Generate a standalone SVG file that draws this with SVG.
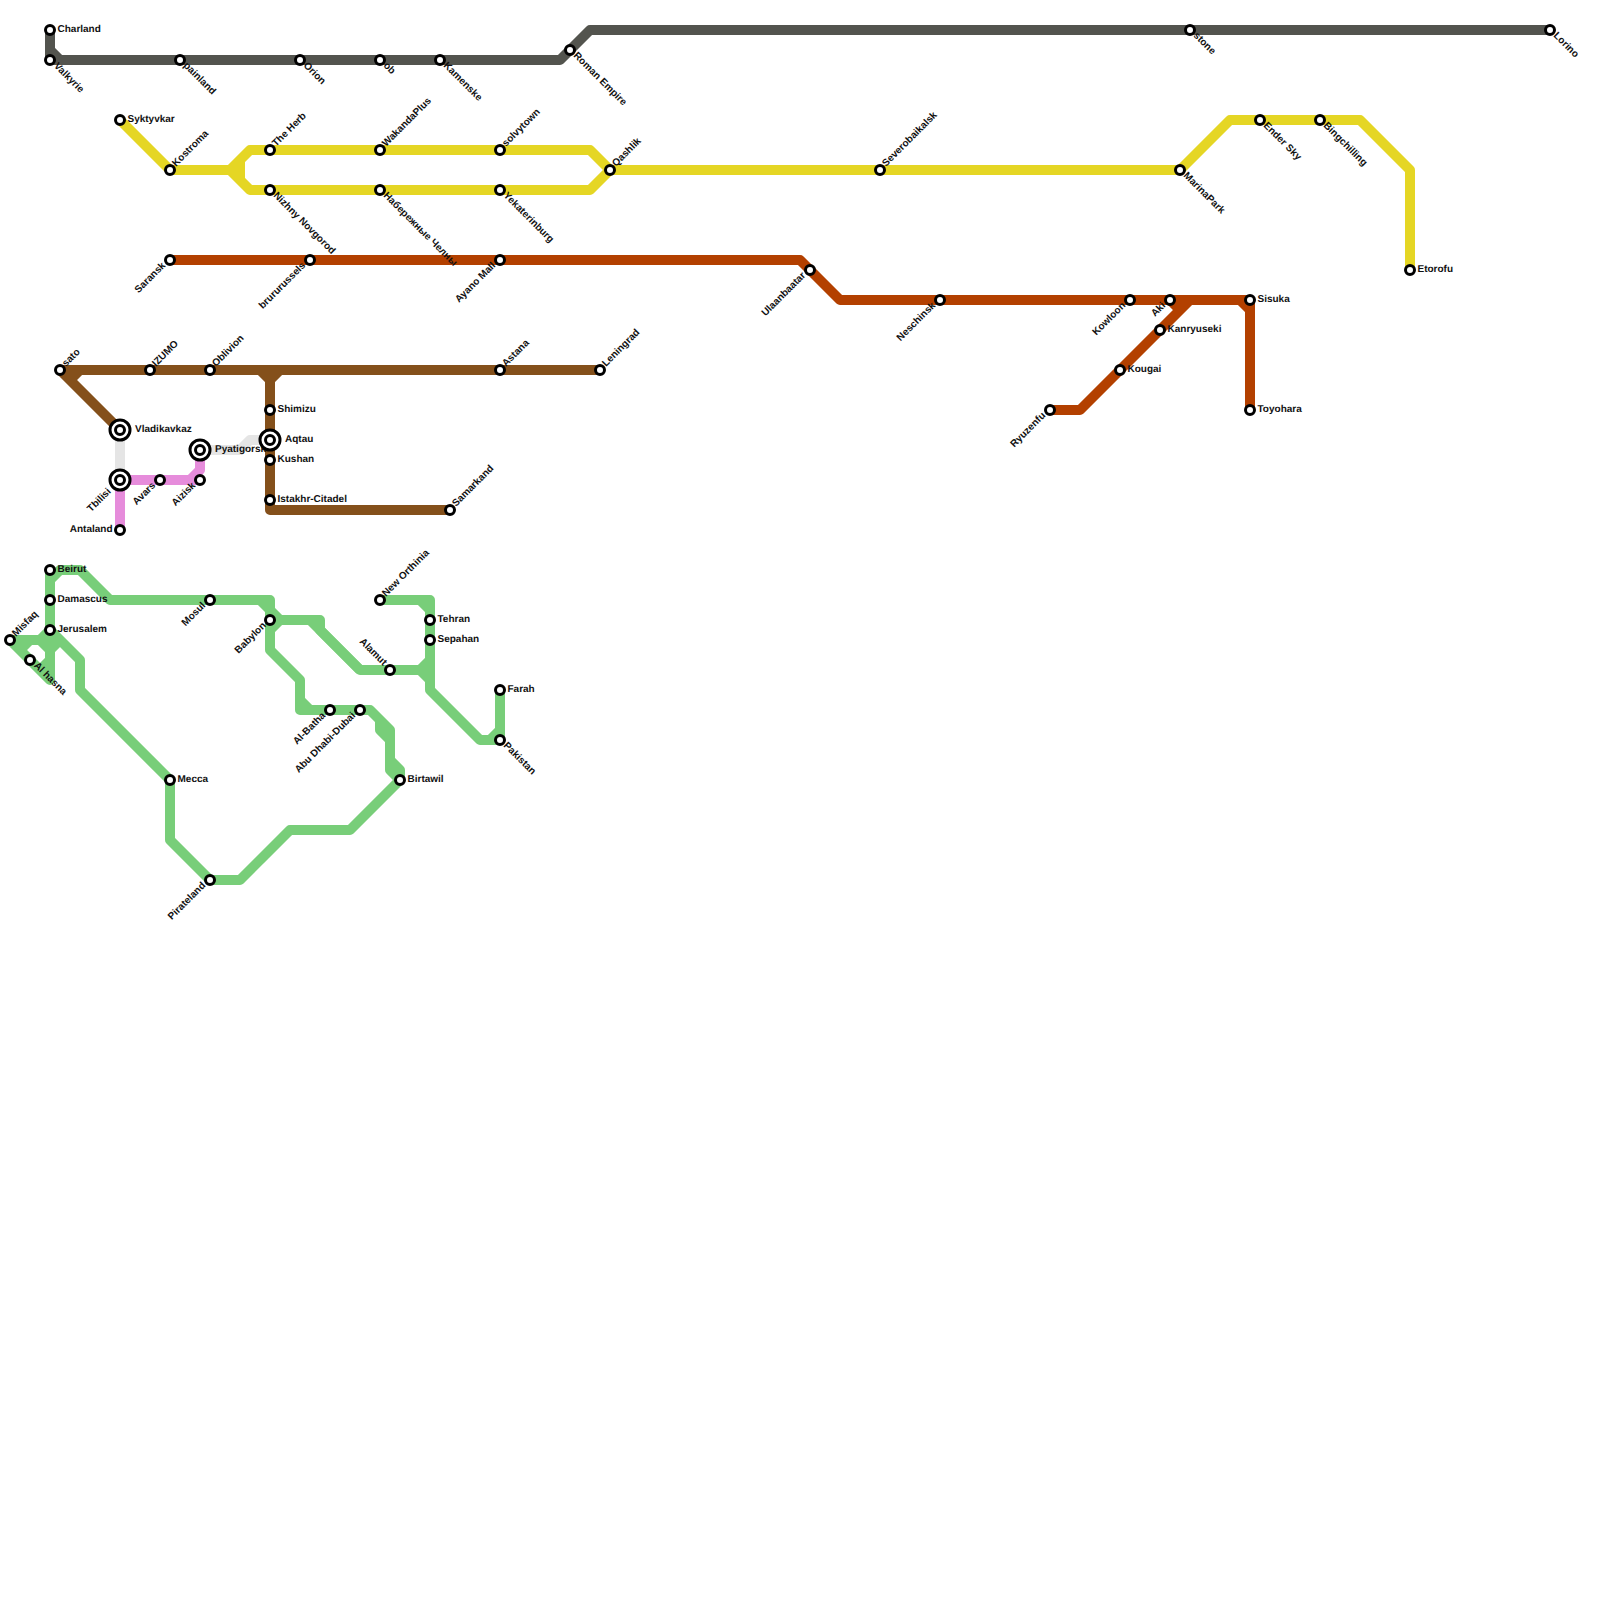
<svg xmlns="http://www.w3.org/2000/svg" width="1600" height="1600" viewBox="0 0 1600 1600">
<style>
text{font-family:"Liberation Sans",Arial,sans-serif;font-size:10px;font-weight:700;fill:#111;text-rendering:geometricPrecision}
.l{fill:none;stroke-width:10;stroke-linejoin:round}
.s{fill:#fff;stroke:#000;stroke-width:3}
.e{text-anchor:end}
</style>
<rect width="1600" height="1600" fill="#fff"/>
<g id="connectors">
<g class="l" stroke="#e5e5e5"><path d="M120 430V480"/><path d="M200 450H240L250 440H270"/></g>
<g class="l" stroke="#e68cdb"><path d="M120 530V480H200"/><path d="M190 480L200 470V450"/></g>
<g class="l" stroke="#53544e"><path d="M50 30V60H560L590 30H1550"/><path d="M50 50L60 60"/></g>
<g class="l" stroke="#e5d624"><path d="M120 120L170 170H230L250 150H590L610 170H1180L1230 120H1360L1410 170V270"/><path d="M230 170L250 190H590L610 170"/><path d="M240 160V180"/></g>
<g class="l" stroke="#b34000"><path d="M170 260H800L840 300H1250V410"/><path d="M1050 410H1080L1190 300"/><path d="M1240 300L1250 310"/><path d="M1170 300L1180 310"/></g>
<g class="l" stroke="#84501b"><path d="M120 430L60 370H600"/><path d="M70 380L80 370"/><path d="M260 370L270 380V510H450"/><path d="M280 370L270 380"/></g>
<g class="l" stroke="#78ce79">
<path d="M50 570V630L80 660V690L170 780V840L210 880H240L290 830H350L400 780V770L390 760V730L370 710H300V680L270 650V600H110L80 570H60L50 580"/>
<path d="M10 640H40L50 630"/><path d="M10 640L50 680V630"/><path d="M20 650L30 640"/><path d="M40 640L50 650"/><path d="M40 670L50 660"/><path d="M50 650L60 640"/>
<path d="M260 600L280 620H320V630L360 670H420L430 660"/><path d="M310 620L360 670"/><path d="M280 620L270 630"/><path d="M300 700L310 710"/>
<path d="M380 720V730L390 740V770L400 780"/>
<path d="M380 600H430V690L480 740H500V690"/><path d="M420 600L430 610"/><path d="M420 670L430 680"/><path d="M490 740L500 730"/>
</g>
</g>
<g id="n-charland"><circle class="s" cx="50" cy="30" r="4.5"/><text x="57.5" y="32">Charland</text></g>
<g id="n-valkyrie"><circle class="s" cx="50" cy="60" r="4.5"/><text transform="translate(53.5 66.5) rotate(45)">Valkyrie</text></g>
<g id="n-painland"><circle class="s" cx="180" cy="60" r="4.5"/><text transform="translate(183 66) rotate(45)">painland</text></g>
<g id="n-orion"><circle class="s" cx="300" cy="60" r="4.5"/><text transform="translate(303 66) rotate(45)">Orion</text></g>
<g id="n-ob"><circle class="s" cx="380" cy="60" r="4.5"/><text transform="translate(383 66) rotate(45)">ob</text></g>
<g id="n-kamenske"><circle class="s" cx="440" cy="60" r="4.5"/><text transform="translate(443 66) rotate(45)">Kamenske</text></g>
<g id="n-roman"><circle class="s" cx="570" cy="50" r="4.5"/><text transform="translate(573 56) rotate(45)">Roman Empire</text></g>
<g id="n-stone"><circle class="s" cx="1190" cy="30" r="4.5"/><text transform="translate(1193 36) rotate(45)">stone</text></g>
<g id="n-lorino"><circle class="s" cx="1550" cy="30" r="4.5"/><text transform="translate(1553 36) rotate(45)">Lorino</text></g>
<g id="n-syktyvkar"><circle class="s" cx="120" cy="120" r="4.5"/><text x="127.5" y="122">Syktyvkar</text></g>
<g id="n-kostroma"><circle class="s" cx="170" cy="170" r="4.5"/><text transform="translate(176 167) rotate(-45)">Kostroma</text></g>
<g id="n-herb"><circle class="s" cx="270" cy="150" r="4.5"/><text transform="translate(276 147) rotate(-45)">The Herb</text></g>
<g id="n-nizhny"><circle class="s" cx="270" cy="190" r="4.5"/><text transform="translate(273 196) rotate(45)">Nizhny Novgorod</text></g>
<g id="n-wakanda"><circle class="s" cx="380" cy="150" r="4.5"/><text transform="translate(386 147) rotate(-45)">WakandaPlus</text></g>
<g id="n-chelny"><circle class="s" cx="380" cy="190" r="4.5"/><text transform="translate(383 196) rotate(45)">Набережные Челны</text></g>
<g id="n-solvytown"><circle class="s" cx="500" cy="150" r="4.5"/><text transform="translate(506 147) rotate(-45)">solvytown</text></g>
<g id="n-yekaterinburg"><circle class="s" cx="500" cy="190" r="4.5"/><text transform="translate(503 196) rotate(45)">Yekaterinburg</text></g>
<g id="n-qashlik"><circle class="s" cx="610" cy="170" r="4.5"/><text transform="translate(616 167) rotate(-45)">Qashlik</text></g>
<g id="n-severo"><circle class="s" cx="880" cy="170" r="4.5"/><text transform="translate(886 167) rotate(-45)">Severobaikalsk</text></g>
<g id="n-marina"><circle class="s" cx="1180" cy="170" r="4.5"/><text transform="translate(1183 176) rotate(45)">MarinaPark</text></g>
<g id="n-ender"><circle class="s" cx="1260" cy="120" r="4.5"/><text transform="translate(1263 126) rotate(45)">Ender Sky</text></g>
<g id="n-bing"><circle class="s" cx="1320" cy="120" r="4.5"/><text transform="translate(1323 126) rotate(45)">Bingchilling</text></g>
<g id="n-etorofu"><circle class="s" cx="1410" cy="270" r="4.5"/><text x="1417.5" y="272">Etorofu</text></g>
<g id="n-saransk"><circle class="s" cx="170" cy="260" r="4.5"/><text class="e" transform="translate(166 266) rotate(-45)">Saransk</text></g>
<g id="n-bruru"><circle class="s" cx="310" cy="260" r="4.5"/><text class="e" transform="translate(306 266) rotate(-45)">brururussels</text></g>
<g id="n-ayano"><circle class="s" cx="500" cy="260" r="4.5"/><text class="e" transform="translate(496 266) rotate(-45)">Ayano Mall</text></g>
<g id="n-ulaan"><circle class="s" cx="810" cy="270" r="4.5"/><text class="e" transform="translate(806 276) rotate(-45)">Ulaanbaatar</text></g>
<g id="n-neschinsk"><circle class="s" cx="940" cy="300" r="4.5"/><text class="e" transform="translate(936 306) rotate(-45)">Neschinsk</text></g>
<g id="n-kowloon"><circle class="s" cx="1130" cy="300" r="4.5"/><text class="e" transform="translate(1126 306) rotate(-45)">Kowloon</text></g>
<g id="n-aki"><circle class="s" cx="1170" cy="300" r="4.5"/><text class="e" transform="translate(1166 306) rotate(-45)">Aki</text></g>
<g id="n-sisuka"><circle class="s" cx="1250" cy="300" r="4.5"/><text x="1257.5" y="302">Sisuka</text></g>
<g id="n-toyohara"><circle class="s" cx="1250" cy="410" r="4.5"/><text x="1257.5" y="412">Toyohara</text></g>
<g id="n-ryuzenfu"><circle class="s" cx="1050" cy="410" r="4.5"/><text class="e" transform="translate(1046 416) rotate(-45)">Ryuzenfu</text></g>
<g id="n-kougai"><circle class="s" cx="1120" cy="370" r="4.5"/><text x="1127.5" y="372">Kougai</text></g>
<g id="n-kanryuseki"><circle class="s" cx="1160" cy="330" r="4.5"/><text x="1167.5" y="332">Kanryuseki</text></g>
<g id="n-sato"><circle class="s" cx="60" cy="370" r="4.5"/><text transform="translate(66 367) rotate(-45)">sato</text></g>
<g id="n-izumo"><circle class="s" cx="150" cy="370" r="4.5"/><text transform="translate(156 367) rotate(-45)">IZUMO</text></g>
<g id="n-oblivion"><circle class="s" cx="210" cy="370" r="4.5"/><text transform="translate(216 367) rotate(-45)">Oblivion</text></g>
<g id="n-astana"><circle class="s" cx="500" cy="370" r="4.5"/><text transform="translate(506 367) rotate(-45)">Astana</text></g>
<g id="n-leningrad"><circle class="s" cx="600" cy="370" r="4.5"/><text transform="translate(606 367) rotate(-45)">Leningrad</text></g>
<g id="n-samarkand"><circle class="s" cx="450" cy="510" r="4.5"/><text transform="translate(456 507) rotate(-45)">Samarkand</text></g>
<g id="n-shimizu"><circle class="s" cx="270" cy="410" r="4.5"/><text x="277.5" y="412">Shimizu</text></g>
<g id="n-pyatigorsk"><circle class="s" cx="200" cy="450" r="10"/><circle class="s" cx="200" cy="450" r="4.5"/><text x="215" y="452">Pyatigorsk</text></g>
<g id="n-aqtau"><circle class="s" cx="270" cy="440" r="10"/><circle class="s" cx="270" cy="440" r="4.5"/><text x="285" y="442">Aqtau</text></g>
<g id="n-kushan"><circle class="s" cx="270" cy="460" r="4.5"/><text x="277.5" y="462">Kushan</text></g>
<g id="n-istakhr"><circle class="s" cx="270" cy="500" r="4.5"/><text x="277.5" y="502">Istakhr-Citadel</text></g>
<g id="n-vladikavkaz"><circle class="s" cx="120" cy="430" r="10"/><circle class="s" cx="120" cy="430" r="4.5"/><text x="135" y="432">Vladikavkaz</text></g>
<g id="n-tbilisi"><circle class="s" cx="120" cy="480" r="10"/><circle class="s" cx="120" cy="480" r="4.5"/><text class="e" transform="translate(111.5 492) rotate(-45)">Tbilisi</text></g>
<g id="n-avars"><circle class="s" cx="160" cy="480" r="4.5"/><text class="e" transform="translate(156 486) rotate(-45)">Avars</text></g>
<g id="n-aizisk"><circle class="s" cx="200" cy="480" r="4.5"/><text class="e" transform="translate(196 486) rotate(-45)">Aizisk</text></g>
<g id="n-antaland"><circle class="s" cx="120" cy="530" r="4.5"/><text class="e" x="112.5" y="532">Antaland</text></g>
<g id="n-beirut"><circle class="s" cx="50" cy="570" r="4.5"/><text x="57.5" y="572">Beirut</text></g>
<g id="n-damascus"><circle class="s" cx="50" cy="600" r="4.5"/><text x="57.5" y="602">Damascus</text></g>
<g id="n-jerusalem"><circle class="s" cx="50" cy="630" r="4.5"/><text x="57.5" y="632">Jerusalem</text></g>
<g id="n-misfaq"><circle class="s" cx="10" cy="640" r="4.5"/><text transform="translate(16 637) rotate(-45)">Misfaq</text></g>
<g id="n-alhasna"><circle class="s" cx="30" cy="660" r="4.5"/><text transform="translate(33.5 666) rotate(45)">Al hasna</text></g>
<g id="n-mecca"><circle class="s" cx="170" cy="780" r="4.5"/><text x="177.5" y="782">Mecca</text></g>
<g id="n-pirateland"><circle class="s" cx="210" cy="880" r="4.5"/><text class="e" transform="translate(206 886) rotate(-45)">Pirateland</text></g>
<g id="n-mosul"><circle class="s" cx="210" cy="600" r="4.5"/><text class="e" transform="translate(206 606) rotate(-45)">Mosul</text></g>
<g id="n-babylon"><circle class="s" cx="270" cy="620" r="4.5"/><text class="e" transform="translate(266.5 626) rotate(-45)">Babylon</text></g>
<g id="n-orthinia"><circle class="s" cx="380" cy="600" r="4.5"/><text transform="translate(386 597) rotate(-45)">New Orthinia</text></g>
<g id="n-tehran"><circle class="s" cx="430" cy="620" r="4.5"/><text x="437.5" y="622">Tehran</text></g>
<g id="n-sepahan"><circle class="s" cx="430" cy="640" r="4.5"/><text x="437.5" y="642">Sepahan</text></g>
<g id="n-alamut"><circle class="s" cx="390" cy="670" r="4.5"/><text class="e" transform="translate(383 666) rotate(45)">Alamut</text></g>
<g id="n-albatha"><circle class="s" cx="330" cy="710" r="4.5"/><text class="e" transform="translate(326 716) rotate(-45)">Al-Batha</text></g>
<g id="n-abudhabi"><circle class="s" cx="360" cy="710" r="4.5"/><text class="e" transform="translate(356 716) rotate(-45)">Abu Dhabi-Dubai</text></g>
<g id="n-birtawil"><circle class="s" cx="400" cy="780" r="4.5"/><text x="407.5" y="782">Birtawil</text></g>
<g id="n-farah"><circle class="s" cx="500" cy="690" r="4.5"/><text x="507.5" y="692">Farah</text></g>
<g id="n-pakistan"><circle class="s" cx="500" cy="740" r="4.5"/><text transform="translate(503 746) rotate(45)">Pakistan</text></g>
</svg>
